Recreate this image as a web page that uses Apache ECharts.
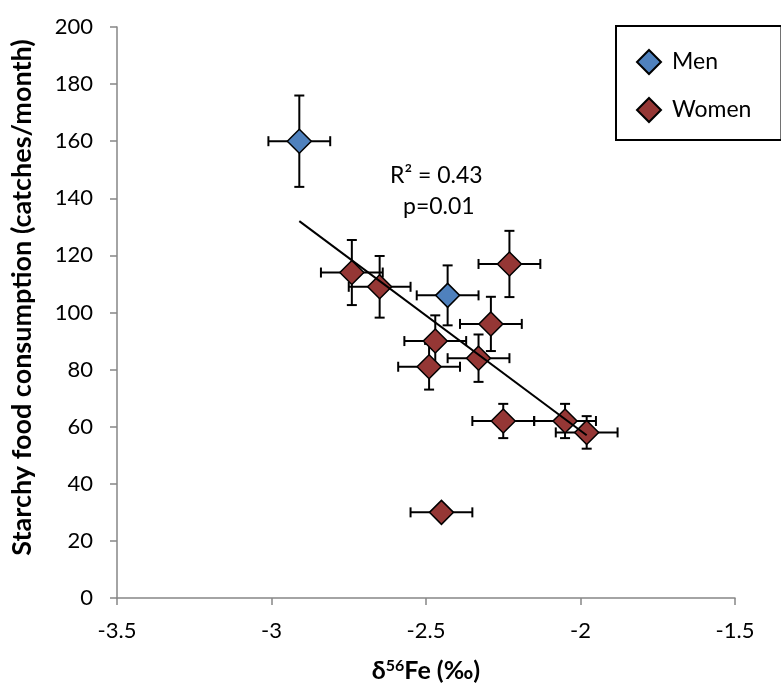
<!DOCTYPE html>
<html>
<head>
<meta charset="utf-8">
<script src="https://cdn.jsdelivr.net/npm/echarts@6/dist/echarts.min.js"></script>
<style>
html,body{margin:0;padding:0;background:#fff;}
#chart{width:781px;height:689px;}
</style>
</head>
<body>
<div id="chart"></div>
<script>
// Men
var menX = [-2.91, -2.43];
var menY = [160, 106];
var menXErr = [0.10, 0.10];
var menYErr = [16, 10.5];
// Women
var womenX = [-2.74, -2.65, -2.23, -2.29, -2.47, -2.49, -2.33, -2.25, -2.05, -1.98, -2.45];
var womenY = [114, 109, 117, 96, 90, 81, 84, 62, 62, 58, 30];
var womenXErr = [0.10, 0.10, 0.10, 0.10, 0.10, 0.10, 0.10, 0.10, 0.10, 0.10, 0.10];
var womenYErr = [11.4, 10.8, 11.6, 9.5, 9, 8, 8.3, 6, 6, 5.7, 2];
// Trend line endpoints
var trendX = [-2.91, -1.98];
var trendY = [132, 57];
// Axis ticks
var xMin = -3.5, xMax = -1.5, xStep = 0.5;
var yMin = 0, yMax = 200, yStep = 20;

var FONT = 'Lato';
var chart = echarts.init(document.getElementById('chart'));

function pts(xs, ys) { return xs.map(function (x, i) { return [x, ys[i]]; }); }
function errData(xs, ys, xe, ye) { return xs.map(function (x, i) { return [x, ys[i], xe[i], ye[i]]; }); }

function renderErr(params, api) {
  var x = api.value(0), y = api.value(1), xe = api.value(2), ye = api.value(3);
  var l = api.coord([x - xe, y]), r = api.coord([x + xe, y]);
  var t = api.coord([x, y + ye]), b = api.coord([x, y - ye]);
  var cap = 5;
  var st = { stroke: '#000', lineWidth: 2 };
  return {
    type: 'group',
    children: [
      { type: 'line', shape: { x1: l[0], y1: l[1], x2: r[0], y2: r[1] }, style: st },
      { type: 'line', shape: { x1: l[0], y1: l[1] - cap, x2: l[0], y2: l[1] + cap }, style: st },
      { type: 'line', shape: { x1: r[0], y1: r[1] - cap, x2: r[0], y2: r[1] + cap }, style: st },
      { type: 'line', shape: { x1: t[0], y1: t[1], x2: b[0], y2: b[1] }, style: st },
      { type: 'line', shape: { x1: t[0] - cap, y1: t[1], x2: t[0] + cap, y2: t[1] }, style: st },
      { type: 'line', shape: { x1: b[0] - cap, y1: b[1], x2: b[0] + cap, y2: b[1] }, style: st }
    ]
  };
}

var axisLineStyle = { color: '#868686', width: 1.5 };

chart.setOption({
  animation: false,
  backgroundColor: '#fff',
  textStyle: { fontFamily: FONT },
  grid: { left: 117, right: 46, top: 27, bottom: 91, containLabel: false, outerBoundsMode: 'none' },
  xAxis: {
    type: 'value', min: xMin, max: xMax, interval: xStep,
    axisLine: { show: true, onZero: false, lineStyle: axisLineStyle },
    axisTick: { show: true, length: 7, lineStyle: axisLineStyle },
    splitLine: { show: false },
    axisLabel: { color: '#000', fontSize: 22, fontFamily: FONT, margin: 22 },
    name: '{d|δ}{s|56}{d|Fe (‰)}',
    nameLocation: 'middle', nameGap: 60,
    nameTextStyle: {
      rich: {
        d: { fontSize: 25, fontWeight: 'bold', fontFamily: FONT, color: '#000' },
        s: { fontSize: 16, fontWeight: 'bold', fontFamily: FONT, color: '#000', verticalAlign: 'top', padding: [0, 0, 10, 0] }
      }
    }
  },
  yAxis: {
    type: 'value', min: yMin, max: yMax, interval: yStep,
    axisLine: { show: true, lineStyle: axisLineStyle },
    axisTick: { show: true, length: 7, lineStyle: axisLineStyle },
    splitLine: { show: false },
    axisLabel: { color: '#000', fontSize: 22, fontFamily: FONT, margin: 24 },
    name: 'Starchy food consumption (catches/month)',
    nameLocation: 'middle', nameGap: 81,
    nameTextStyle: { fontSize: 27, fontWeight: 'bold', fontFamily: FONT, color: '#000', padding: [0, 0, 0, 30] }
  },
  legend: {
    data: ['Men', 'Women'],
    orient: 'vertical',
    left: 616, top: 26,
    padding: [23, 30, 17, 20],
    itemGap: 22,
    itemWidth: 24, itemHeight: 24,
    borderColor: '#000', borderWidth: 2,
    textStyle: { fontSize: 23, fontFamily: FONT, color: '#000', padding: [0, 0, 0, 6] }
  },
  graphic: [
    { type: 'text', left: 390, top: 164, style: { text: 'R² = 0.43', font: '23px ' + FONT, fill: '#000' } },
    { type: 'text', left: 403, top: 195, style: { text: 'p=0.01', font: '23px ' + FONT, fill: '#000' } }
  ],
  series: [
    { name: 'menErr', type: 'custom', renderItem: renderErr, data: errData(menX, menY, menXErr, menYErr), z: 2, silent: true },
    { name: 'womenErr', type: 'custom', renderItem: renderErr, data: errData(womenX, womenY, womenXErr, womenYErr), z: 2, silent: true },
    { name: 'Men', type: 'scatter', symbol: 'diamond', symbolSize: [24, 24], data: pts(menX, menY), z: 3,
      itemStyle: { color: '#4F81BD', borderColor: '#000', borderWidth: 1.5, opacity: 1 } },
    { name: 'Women', type: 'scatter', symbol: 'diamond', symbolSize: [24, 24], data: pts(womenX, womenY), z: 3,
      itemStyle: { color: '#953735', borderColor: '#000', borderWidth: 1.5, opacity: 1 } },
    { name: 'trend', type: 'line', data: pts(trendX, trendY), symbol: 'none', z: 4, silent: true,
      lineStyle: { color: '#000', width: 2 } }
  ]
});
</script>
</body>
</html>
